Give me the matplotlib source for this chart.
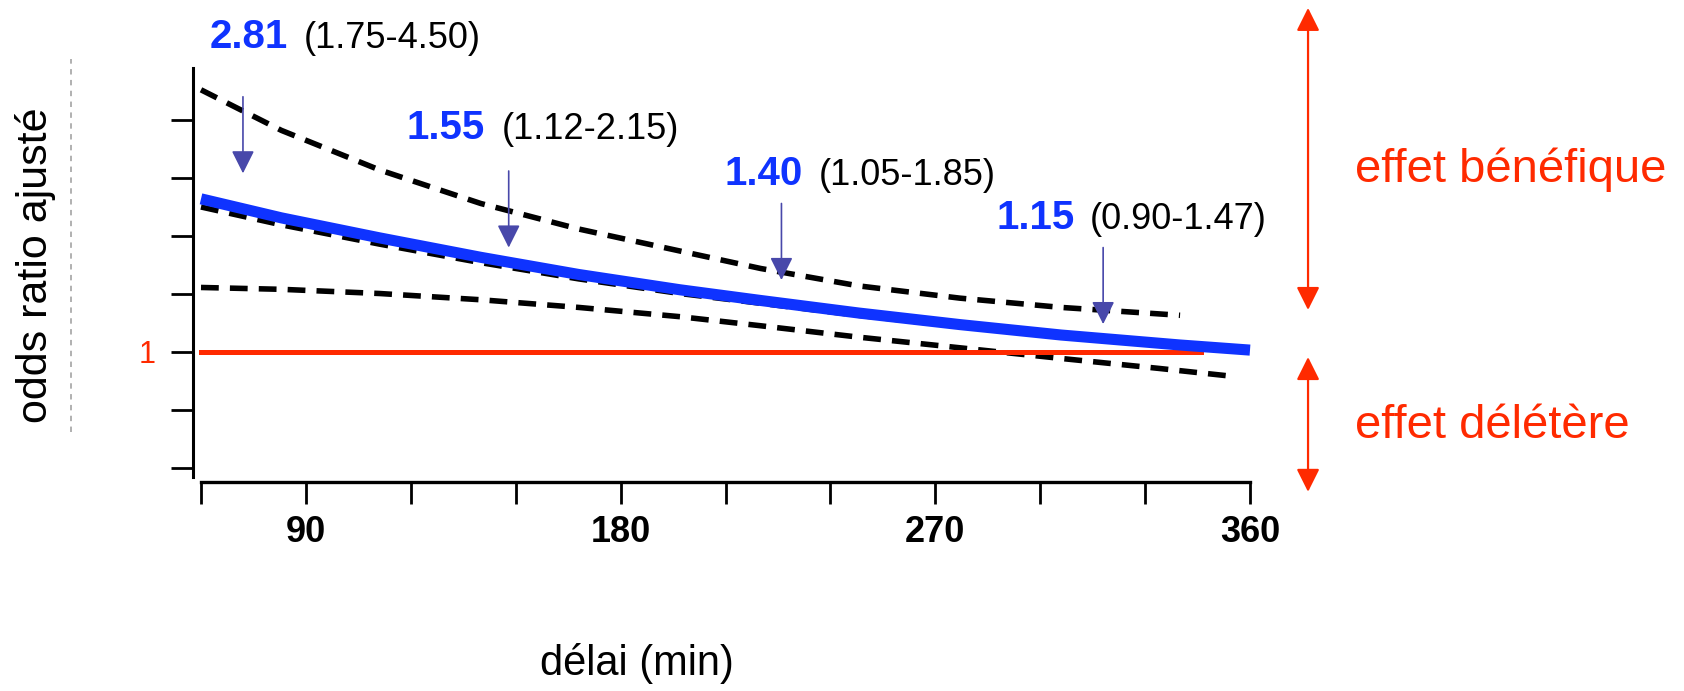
import matplotlib
matplotlib.use("Agg")
import matplotlib.pyplot as plt
from matplotlib.lines import Line2D
from matplotlib.patches import ArrowStyle

plt.rcParams['font.family'] = ['Liberation Sans', 'DejaVu Sans']

# x axis (delay, minutes)
tick_minutes = [60, 90, 120, 150, 180, 210, 240, 270, 300, 330, 360]
tick_labels = ['', '90', '', '', '180', '', '', '270', '', '', '360']
# y axis (odds ratio, schematic scale)
or_ticks = [0.5, 0.75, 1.0, 1.25, 1.5, 1.75, 2.0]
or_tick_labels = ['', '', '1', '', '', '', '']

# curves
min_upper = [60, 83, 111, 140, 168, 197, 220, 248, 277, 306, 340]
ci_upper = [2.13, 1.955, 1.785, 1.64, 1.53, 1.435, 1.36, 1.285, 1.232, 1.192, 1.158]
min_fit = [60, 83, 111, 140, 168, 197, 220, 248, 277, 306, 340, 360]
or_fit = [1.66, 1.578, 1.492, 1.408, 1.334, 1.268, 1.222, 1.168, 1.118, 1.073, 1.03, 1.008]
min_est = [60, 83, 111, 140, 168, 197, 220, 248, 277, 306, 330]
or_est = [1.625, 1.548, 1.465, 1.385, 1.315, 1.252, 1.21, 1.158, 1.11, 1.068, 1.038]
min_lower = [60, 83, 111, 140, 168, 197, 220, 248, 277, 306, 334, 355]
ci_lower = [1.278, 1.27, 1.252, 1.225, 1.192, 1.152, 1.113, 1.064, 1.018, 0.972, 0.929, 0.895]
ref_minutes = [60, 346]
ref_or = [1, 1]

# annotated odds ratios
or_values = ['2.81', '1.55', '1.40', '1.15']
ci_texts = ['(1.75-4.50)', '(1.12-2.15)', '(1.05-1.85)', '(0.90-1.47)']
arrow_min = [72, 148, 226, 318]

# layout of the annotations
arrow_top = [2.10, 1.78, 1.64, 1.45]
arrow_tip = [1.77, 1.45, 1.31, 1.12]
num_x = [62.6, 118.9, 209.8, 287.6]
ci_x = [89.5, 146.1, 236.7, 314.2]
lab_y = [2.31, 1.92, 1.72, 1.53]

blue = '#0f33ff'
red = '#ff2a00'
navy = '#4848aa'

fig = plt.figure(figsize=(16.84, 6.91), dpi=100)
ax = fig.add_axes([201 / 1684, 214 / 691, 1049 / 1684, 409 / 691])

ax.set_xlim(60, 360)
ax.set_ylim(0.461, 2.224)

dash = (0, (3.2, 2.0))
ax.plot(min_upper, ci_upper, color='black', lw=4, linestyle=dash, clip_on=False)
ax.plot(min_lower, ci_lower, color='black', lw=4, linestyle=dash, clip_on=False)
ax.plot(min_est, or_est, color='black', lw=4, linestyle=dash, clip_on=False)
ax.plot(ref_minutes, ref_or, color=red, lw=3.6, clip_on=False)
ax.plot(min_fit, or_fit, color=blue, lw=8, solid_capstyle='butt', clip_on=False)

head = ArrowStyle('-|>', head_length=1.0, head_width=0.5)
for i in range(4):
    ax.annotate('', xy=(arrow_min[i], arrow_tip[i]), xytext=(arrow_min[i], arrow_top[i]),
                arrowprops=dict(arrowstyle=head, mutation_scale=14, color=navy, lw=1.2,
                                shrinkA=0, shrinkB=0), annotation_clip=False)
    ax.text(num_x[i], lab_y[i], or_values[i], color=blue, fontsize=29, fontweight='bold',
            va='baseline', ha='left', clip_on=False)
    ax.text(ci_x[i], lab_y[i], ci_texts[i], color='black', fontsize=26,
            va='baseline', ha='left', clip_on=False)

# beneficial / deleterious arrows on the right
both = ArrowStyle('<|-|>', head_length=1.0, head_width=0.5)
ax.annotate('', xy=(376.6, 2.483), xytext=(376.6, 1.181),
            arrowprops=dict(arrowstyle=both, mutation_scale=14, color=red, lw=1.6,
                            shrinkA=0, shrinkB=0), annotation_clip=False)
ax.annotate('', xy=(376.6, 0.978), xytext=(376.6, 0.397),
            arrowprops=dict(arrowstyle=both, mutation_scale=14, color=red, lw=1.6,
                            shrinkA=0, shrinkB=0), annotation_clip=False)
ax.text(390, 1.733, 'effet bénéfique', color=red, fontsize=34, va='baseline', clip_on=False)
ax.text(390, 0.629, 'effet délétère', color=red, fontsize=34, va='baseline', clip_on=False)

# axes styling
for s in ['top', 'right']:
    ax.spines[s].set_visible(False)
ax.spines['left'].set_position(('outward', 5.8))
ax.spines['bottom'].set_position(('outward', 3.6))
ax.spines['left'].set_linewidth(2.2)
ax.spines['bottom'].set_linewidth(2.4)

ax.set_xticks(tick_minutes)
ax.set_xticklabels(tick_labels, fontsize=26, fontweight='bold')
ax.set_yticks(or_ticks)
ax.set_yticklabels(or_tick_labels, fontsize=22)
ax.tick_params(axis='x', direction='out', length=15.8, width=2, pad=8)
ax.tick_params(axis='y', direction='out', length=15.8, width=2, pad=11, labelcolor=red)

fig.text(636.5 / 1684, 1 - 664 / 691, 'délai (min)', fontsize=30, ha='center', va='center')
fig.text(36 / 1684, 1 - 265 / 691, 'odds ratio ajusté', fontsize=31, rotation=90,
         ha='center', va='center')
fig.add_artist(Line2D([71 / 1684, 71 / 1684], [1 - 432 / 691, 1 - 59 / 691],
                      color='#aaaaaa', lw=1.3, linestyle=(0, (3, 3))))

fig.savefig('out.png', dpi=100)
